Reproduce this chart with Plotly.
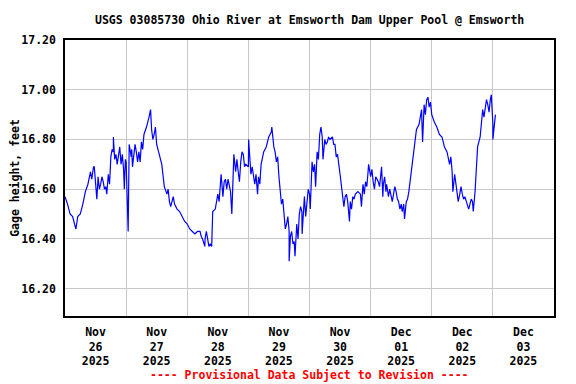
import plotly.graph_objects as go
from datetime import datetime, timedelta

start = datetime(2025, 11, 26, 0, 0)

# hourly gage height readings (feet), starting Nov 26 00:00
hourly_values = [
    16.57, 16.54, 16.50, 16.49, 16.45, 16.49, 16.50, 16.54, 16.59, 16.62,
    16.67, 16.67, 16.62, 16.65, 16.62, 16.63, 16.61, 16.66, 16.73, 16.75,
    16.74, 16.73, 16.70, 16.68, 16.71, 16.75, 16.73, 16.74, 16.75, 16.75,
    16.79, 16.82, 16.85, 16.89, 16.84, 16.82, 16.78, 16.74, 16.70, 16.61,
    16.58, 16.55, 16.55, 16.54, 16.52, 16.51, 16.49, 16.47, 16.46, 16.44,
    16.43, 16.42, 16.43, 16.43, 16.40, 16.40, 16.39, 16.38, 16.51, 16.52,
    16.58, 16.62, 16.57, 16.64, 16.64, 16.59, 16.69, 16.67, 16.67, 16.71,
    16.74, 16.70, 16.69, 16.66, 16.65, 16.66, 16.65, 16.70, 16.75, 16.77,
    16.81, 16.83, 16.77, 16.71, 16.65, 16.54, 16.48, 16.46, 16.43, 16.43,
    16.39, 16.46, 16.50, 16.51, 16.57, 16.54, 16.58, 16.71, 16.70, 16.75,
    16.82, 16.81, 16.80, 16.79, 16.80, 16.81, 16.78, 16.74, 16.66, 16.58,
    16.57, 16.55, 16.55, 16.57, 16.58, 16.59, 16.58, 16.62, 16.63, 16.67,
    16.65, 16.63, 16.65, 16.63, 16.65, 16.62, 16.59, 16.57, 16.58, 16.58,
    16.59, 16.55, 16.54, 16.54, 16.55, 16.59, 16.67, 16.77, 16.84, 16.86,
    16.92, 16.94, 16.96, 16.93, 16.90, 16.87, 16.85, 16.82, 16.81, 16.77,
    16.75, 16.70, 16.67, 16.66, 16.59, 16.58, 16.58, 16.57, 16.54, 16.54,
    16.55, 16.59, 16.77, 16.81, 16.92, 16.93, 16.94, 16.96, 16.86, 16.90,
]

# short-lived fluctuations between hourly readings (hour offset, feet)
spike_hours = [
    4.3, 10.5, 11.2, 11.5, 12.5, 13.5, 14.5, 15.5, 16.4, 17.5,
    18.5, 19.0, 19.5, 20.5, 21.5, 22.5, 23.3, 23.7, 24.8, 25.2,
    26.2, 26.5, 27.5, 28.5, 29.5, 30.5, 33.6, 34.5, 35.5, 36.5,
    40.5, 41.5, 42.5, 53.5, 54.9, 55.5, 56.5, 57.6, 60.5, 61.3,
    62.5, 63.5, 64.5, 65.5, 66.3, 67.5, 68.5, 69.5, 70.5, 72.1,
    73.5, 74.5, 75.6, 76.5, 81.2, 82.5, 83.5, 84.5, 85.5, 86.5,
    87.5, 88.0, 88.5, 89.5, 90.3, 90.7, 91.5, 92.5, 93.1, 94.5,
    95.5, 96.3, 97.5, 98.4, 99.5, 100.5, 101.3, 102.5, 103.5, 105.5,
    106.5, 109.5, 110.5, 111.7, 112.5, 113.5, 116.4, 117.5, 118.5, 119.2,
    120.5, 121.5, 122.5, 123.5, 124.3, 124.8, 125.5, 126.3, 127.5, 128.5,
    129.5, 130.5, 131.5, 132.4, 133.3, 134.5, 139.5, 140.4, 141.5, 142.5,
    143.5, 151.5, 152.3, 153.5, 154.4, 155.5, 156.5, 158.5, 159.5, 160.3,
    163.5, 164.5, 165.5, 166.5, 167.4, 168.0,
]
spike_values = [
    16.44, 16.64, 16.69, 16.69, 16.56, 16.60, 16.65, 16.60, 16.58, 16.62,
    16.76, 16.81, 16.72, 16.70, 16.77, 16.74, 16.60, 16.72, 16.43, 16.78,
    16.76, 16.69, 16.78, 16.71, 16.71, 16.76, 16.92, 16.80, 16.85, 16.76,
    16.60, 16.53, 16.57, 16.41, 16.37, 16.43, 16.37, 16.37, 16.55, 16.66,
    16.63, 16.60, 16.61, 16.50, 16.74, 16.72, 16.63, 16.75, 16.69, 16.80,
    16.69, 16.62, 16.58, 16.62, 16.85, 16.75, 16.73, 16.60, 16.56, 16.44,
    16.49, 16.31, 16.41, 16.38, 16.33, 16.44, 16.40, 16.53, 16.42, 16.49,
    16.60, 16.52, 16.67, 16.61, 16.72, 16.85, 16.72, 16.78, 16.81, 16.78,
    16.73, 16.53, 16.58, 16.47, 16.52, 16.56, 16.53, 16.58, 16.61, 16.70,
    16.68, 16.60, 16.64, 16.61, 16.69, 16.57, 16.65, 16.62, 16.60, 16.55,
    16.61, 16.56, 16.52, 16.51, 16.48, 16.56, 16.90, 16.79, 16.90, 16.97,
    16.95, 16.73, 16.59, 16.62, 16.55, 16.61, 16.56, 16.52, 16.56, 16.51,
    16.86, 16.89, 16.96, 16.91, 16.98, 16.80,
]

y_ticks = [16.20, 16.40, 16.60, 16.80, 17.00, 17.20]
day_labels = ["Nov<br>26<br>2025", "Nov<br>27<br>2025", "Nov<br>28<br>2025",
              "Nov<br>29<br>2025", "Nov<br>30<br>2025", "Dec<br>01<br>2025",
              "Dec<br>02<br>2025", "Dec<br>03<br>2025"]

points = [(float(h), v) for h, v in enumerate(hourly_values)]
points += list(zip(spike_hours, spike_values))
points.sort(key=lambda p: p[0])
xs = [start + timedelta(hours=h) for h, _ in points]
ys = [v for _, v in points]

font_family = "DejaVu Sans Mono"

fig = go.Figure()
fig.add_trace(go.Scatter(x=xs, y=ys, mode="lines",
                         line=dict(color="#0000FF", width=1.2),
                         showlegend=False, hoverinfo="skip"))

label_pos = [start + timedelta(hours=12 + 24 * i) for i in range(len(day_labels))]

fig.update_layout(
    width=576, height=384,
    margin=dict(l=57, r=30, t=32, b=76, autoexpand=False),
    paper_bgcolor="white", plot_bgcolor="white",
    font=dict(family=font_family, size=11.5, color="black", weight="bold"),
    xaxis=dict(
        type="date", automargin=False,
        range=[start, start + timedelta(days=8)],
        tickmode="array", tickvals=label_pos, ticktext=day_labels,
        showgrid=False, ticks="", ticklabelstandoff=4,
        minor=dict(tickmode="linear", tick0=start, dtick=86400000,
                   showgrid=True, gridcolor="#C8C8C8", gridwidth=1, ticks=""),
        showline=True, linecolor="black", linewidth=1.5, mirror=True,
        zeroline=False,
    ),
    yaxis=dict(
        automargin=False,
        range=[16.09, 17.20],
        tickmode="array", tickvals=y_ticks,
        ticktext=["%.2f" % v for v in y_ticks],
        showgrid=True, gridcolor="#C8C8C8", gridwidth=1,
        ticks="", ticklabelstandoff=5,
        showline=True, linecolor="black", linewidth=1.5, mirror=True,
        zeroline=False,
        title=dict(text="Gage height, feet", standoff=7,
                   font=dict(family=font_family, size=11.5, weight="bold")),
    ),
    annotations=[
        dict(text="USGS 03085730 Ohio River at Emsworth Dam Upper Pool @ Emsworth",
             xref="paper", yref="paper", x=0.5, y=(316 - 20) / 276,
             xanchor="center", yanchor="middle", showarrow=False,
             font=dict(family=font_family, size=11.5, weight="bold", color="black")),
        dict(text="---- Provisional Data Subject to Revision ----",
             xref="paper", yref="paper", x=0.5, y=(316 - 375) / 276,
             xanchor="center", yanchor="middle", showarrow=False,
             font=dict(family=font_family, size=11.5, weight="bold", color="#FF0000")),
    ],
)

fig.write_html("out.html")
